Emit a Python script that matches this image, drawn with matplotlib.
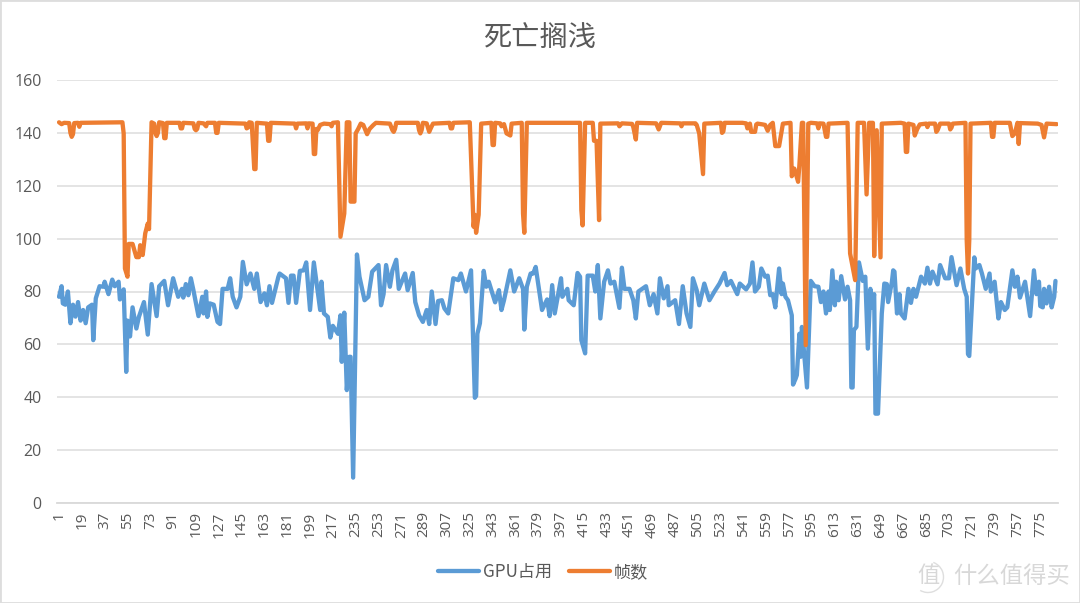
import matplotlib
matplotlib.use("Agg")
import matplotlib.pyplot as plt
from matplotlib.patches import Rectangle, Arc

plt.rcParams["font.family"] = ["Noto Sans CJK SC", "DejaVu Sans"]

title = "死亡搁浅"
y_ticks = [0, 20, 40, 60, 80, 100, 120, 140, 160]
x_ticks = list(range(1, 790, 18))

# only the turning points of each line
gpu_idx = [1, 3, 4, 6, 8, 10, 12, 14, 16, 18, 20, 22, 24, 27, 28, 30, 33, 36, 37, 40, 43, 45, 48, 49, 52, 54, 55, 57, 59, 62, 64, 68, 71, 74, 78, 80, 84, 87, 91, 95, 98, 99, 101, 103, 105, 107, 111, 114, 115, 117, 118, 120, 123, 126, 128, 130, 134, 136, 138, 141, 144, 146, 149, 152, 155, 157, 160, 163, 165, 167, 169, 174, 175, 180, 182, 184, 186, 188, 191, 194, 196, 199, 202, 207, 208, 210, 213, 215, 217, 221, 223, 224, 226, 228, 230, 231, 233, 236, 238, 242, 245, 248,
           253, 255, 257, 259, 262, 264, 267, 269, 274, 276, 280, 282, 285, 288, 291, 293, 295, 298, 300, 303, 305, 308, 312, 316, 318, 322, 326, 329, 330, 331, 333, 336, 338, 340, 345, 348, 350, 352, 357, 360, 364, 367, 368, 370, 373, 375, 377, 382, 386, 388, 390, 392, 397, 398, 402, 403, 407, 410, 412, 413, 416, 418, 422, 424, 426, 428, 431, 434, 436, 439, 443, 445, 447, 451, 454, 456, 458, 464, 467, 470, 473, 475, 478, 481, 482, 487, 490, 493, 496, 499, 501, 504, 506, 510, 514,
           518, 522, 526, 528, 531, 536, 538, 543, 546, 548, 550, 553, 555, 558, 560, 562, 564, 566, 569, 571, 572, 574, 576, 579, 580, 582, 583, 585, 586, 587, 589, 591, 594, 597, 600, 602, 604, 606, 608, 609, 611, 613, 614, 616, 618, 621, 623, 625, 626, 627, 628, 630, 632, 635, 637, 639, 641, 642, 644, 645, 647, 650, 652, 654, 655, 658, 659, 660, 662, 664, 665, 668, 671, 673, 675, 677, 681, 684, 686, 688, 690, 694, 696, 700, 703, 705, 709, 712, 715, 717, 718, 719, 723, 724, 727, 729, 732, 735, 736, 739, 742, 744, 747, 749, 753, 755, 757, 759, 763, 767, 770, 772, 774, 775, 777, 778, 780, 782, 784, 786, 787]
gpu_val = [78, 82, 75.5, 75, 80, 68, 75, 70.5, 76, 69, 73, 68, 74, 75, 61.6, 77.4, 82, 81.8, 83.7, 79, 84.5, 82, 83.7, 77, 80.8, 49.6, 69, 63, 74, 66, 70.4, 76, 63.7, 82.8, 70.7, 82, 84, 74.8, 85, 78, 81, 77.7, 82.8, 78.6, 85, 80.5, 70.7, 78, 71.7, 80, 70.4, 75.5, 75, 68.5, 67.7, 81, 81, 85, 78, 74, 78, 91.2, 82.7, 86.8, 81, 86.8, 76, 79.3, 74.8, 82, 75.7, 85.5, 86.8, 85, 75.7, 86, 86, 75.7, 87.8, 88, 91, 73, 91, 73, 83.7, 71.7, 70.4, 62.6, 67, 64, 71, 53.4, 72, 42.7, 55.3, 55.3, 9.6, 94, 85.6, 76.7, 78, 87.5,
           90, 74.8, 79, 90, 81.8, 88, 92, 81, 86.8, 80.5, 87, 76, 71, 68.5, 73, 67.7, 80, 67.7, 76.4, 76.7, 73.6, 71.7, 85, 84.3, 86.8, 80, 88, 39.8, 40.5, 64, 68, 87.8, 81.8, 83.7, 75.9, 80.5, 73, 76.7, 88, 80, 85, 81, 65.6, 81.8, 86.8, 86.8, 89.3, 73, 77, 70.7, 82.4, 71.7, 85, 78, 81, 76.7, 74.8, 87, 85.6, 61.6, 56.6, 86, 86, 80, 90, 69.8, 83.7, 88, 83, 83.7, 73.8, 89, 81, 81, 76.7, 69.8, 80, 82, 74.8, 79, 71.7, 85, 77.4, 82, 74.8, 76.7, 67.7, 82, 71.7, 66.6, 85, 80.5, 74.8, 83, 76.7,
           80, 83, 87, 82.4, 84, 79, 83, 80.8, 83, 91, 80, 81.8, 88.7, 85.6, 86, 78.6, 79, 74, 88.7, 79, 83, 78, 76.7, 71, 44.8, 47, 48.4, 64, 55.3, 66.6, 55.3, 43.7, 84, 82, 81.8, 76, 80, 71.7, 80, 73, 88, 74.8, 83.7, 76.7, 85.8, 77, 81.8, 76.7, 43.7, 43.7, 65.4, 66.6, 91, 84, 85.6, 58.4, 81, 74, 79, 33.8, 33.8, 71.7, 83, 82.8, 76, 83.7, 88, 87.5, 71.7, 79, 71.7, 69.8, 81, 75.7, 81, 78, 85.6, 83, 89, 83, 87.5, 82.7, 90, 85, 85, 93, 82.4, 88.7, 81, 78, 56.3, 55.6, 92.9, 88.7, 90, 86.8, 81, 86.8, 80, 83.7, 69.8, 76, 73, 74, 88, 81.8, 85.6, 77.7, 83.7, 70.7, 88, 79, 83.7, 74.5, 74, 81, 75.5, 81.8, 74, 78, 84]

fps_idx = [1, 3, 5, 9, 10, 11, 12, 13, 16, 17, 18, 51, 52, 53, 55, 56, 59, 62, 64, 65, 67, 69, 71, 72, 74, 76, 77, 78, 79, 80, 83, 84, 85, 86, 96, 97, 98, 99, 107, 108, 109, 110, 111, 115, 117, 118, 124, 125, 126, 127, 148, 149, 150, 151, 153, 155, 156, 157, 165, 166, 167, 168, 187, 188, 189, 196, 197, 198, 201, 202, 203, 204, 205, 207, 210, 215, 216, 217, 221, 223, 226, 228, 230, 231, 234, 235, 237, 239, 241, 244, 246, 249,
           251, 262, 264, 265, 266, 267, 284, 285, 286, 287, 288, 291, 293, 294, 296, 309, 310, 311, 312, 325, 328, 329, 330, 332, 334, 342, 343, 344, 345, 349, 350, 352, 354, 357, 358, 366, 367, 368, 370, 412, 413, 414, 416, 422, 423, 425, 427, 428, 442, 443, 445, 450, 453, 454, 456, 457, 472, 473, 474, 475, 476, 491, 492, 493, 503, 504, 506, 509, 510,
           523, 524, 525, 526, 540, 543, 544, 545, 546, 547, 550, 551, 552, 556, 558, 560, 562, 564, 566, 569, 572, 578, 579, 581, 584, 585, 587, 588, 590, 592, 594, 599, 600, 601, 604, 606, 607, 608, 623, 625, 627, 629, 631, 636, 638, 640, 643, 644, 646, 649, 650, 665, 668, 669, 670, 671, 675, 676, 678, 680, 685, 686, 687, 692, 693, 694, 696, 703, 704, 705, 706, 716, 717, 718, 719, 720, 736, 737, 738, 739, 751, 753, 755, 757, 758, 759, 773, 776, 778, 780, 788]
fps_val = [144, 143.3, 143.8, 143.7, 140, 138.5, 139.5, 143.7, 143.8, 142.3, 143.8, 144, 139.8, 88.7, 85.6, 98, 98, 93, 93, 97.5, 93.8, 102, 105.7, 103.6, 144, 143.5, 140, 138.8, 140, 144, 143.7, 138, 138, 143.8, 143.8, 141.7, 141.7, 143.8, 143.6, 141.5, 141, 141.5, 143.8, 143.6, 142.5, 143.8, 143.8, 140, 140, 143.8, 143.5, 141.7, 142, 144, 143.8, 126.3, 126.3, 143.8, 143.5, 137, 137, 143.8, 143.5, 141.7, 143.5, 143.6, 141.7, 143.6, 143.5, 132, 132, 141.5, 141, 143, 143.5, 143.3, 142.5, 143.8, 144, 100.7, 109.5, 144, 144, 114, 114, 139.8, 141.5, 143.5, 143, 139.5, 141.5, 143,
           143.8, 143.5, 141, 140.4, 141.5, 143.8, 143.8, 141, 139.8, 141, 143.8, 143.6, 140.4, 141.5, 143.5, 143.8, 141.7, 141.7, 143.8, 144, 104.5, 109, 102.2, 109, 143.5, 143.8, 135.4, 135.4, 143.8, 143.6, 142.5, 143.3, 139.8, 139, 143.5, 143.8, 109.5, 102.2, 143.8, 143.8, 110.8, 105, 143.8, 143.8, 137, 137, 107, 143.5, 143.6, 142.5, 143.6, 143.5, 143.4, 142.2, 137.5, 143.8, 143.6, 142.5, 141.3, 142.5, 143.8, 143.6, 142.5, 143.6, 143.6, 143, 139.8, 124.4, 143.5,
           143.8, 140, 140.5, 143.8, 143.8, 143.6, 141.7, 141.9, 143.5, 140.4, 140.4, 143.2, 143.5, 143.2, 143, 140.8, 143, 143.8, 135, 135, 143.5, 143.8, 123.6, 126.5, 121.5, 127.8, 143.8, 143.8, 59.7, 143.5, 143.8, 143.6, 141.7, 143.6, 143.5, 138.5, 138.5, 143.5, 143.8, 94.4, 89.4, 84.3, 143.8, 143.8, 116.7, 143.8, 143.8, 93.4, 141, 92.9, 143.5, 143.8, 143.5, 132.8, 132.8, 143.5, 143, 139, 141.5, 143.2, 143.5, 142.2, 143.5, 143.5, 140.4, 141, 143.5, 143.5, 141.3, 142, 143.5, 143.8, 99.4, 86.8, 99.4, 143.5, 143.8, 138.5, 138.5, 143.8, 143.8, 138.8, 139.8, 143.8, 135.8, 143.7, 143.5, 143, 138.3, 143.5, 143.3]

fig = plt.figure(figsize=(10.8, 6.03), dpi=100)
ax = fig.add_axes([57 / 1080, 1 - 503 / 603, (1058 - 57) / 1080, (503 - 80) / 603])

ax.plot(gpu_idx, gpu_val, color="#5b9bd5", lw=3.1, label="GPU占用", solid_joinstyle="round", solid_capstyle="round")
ax.plot(fps_idx, fps_val, color="#ed7d31", lw=3.1, label="帧数", solid_joinstyle="round", solid_capstyle="round")

ax.set_xlim(-0.6, 789)
ax.set_ylim(0, 160)
ax.set_yticks(y_ticks)
ax.set_xticks(x_ticks)
ax.set_xticklabels(x_ticks, rotation=90)
ax.tick_params(length=0, labelcolor="#595959")
ax.tick_params(axis="y", labelsize=11.5, pad=11)
ax.tick_params(axis="x", labelsize=11, pad=6)
for lab in ax.get_xticklabels() + ax.get_yticklabels():
    lab.set_fontfamily(["Open Sans", "DejaVu Sans"])
ax.grid(axis="y", color="#e2e2e2", lw=1.3)
ax.set_axisbelow(True)
for s in ["top", "left", "right"]:
    ax.spines[s].set_visible(False)
ax.spines["bottom"].set_color("#d9d9d9")
ax.spines["bottom"].set_linewidth(1.3)

fig.text(540 / 1080, 1 - 38 / 603, title, ha="center", va="center", fontsize=20.3, color="#595959")
fig.legend(loc="center", bbox_to_anchor=(543 / 1080, 1 - 572 / 603), ncol=2, frameon=False,
           fontsize=12.3, labelcolor="#595959", handlelength=2.4, columnspacing=1.0, handletextpad=0.2)

# image frame and the site watermark
fig.add_artist(Rectangle((0, 0), 1, 1, transform=fig.transFigure, fill=False, ec="#dddddd", lw=2))
fig.add_artist(Arc((9.28, 0.26), 0.31, 0.31, theta1=-120, theta2=70, transform=fig.dpi_scale_trans, ec="#dedede", lw=1))
fig.text(928 / 1080, 1 - 576 / 603, "值", ha="center", va="center", fontsize=16, color="#d8d8d8")
fig.text(1012 / 1080, 1 - 576 / 603, "什么值得买", ha="center", va="center", fontsize=16.8, color="#d8d8d8")

fig.savefig("out.png", dpi=100)
